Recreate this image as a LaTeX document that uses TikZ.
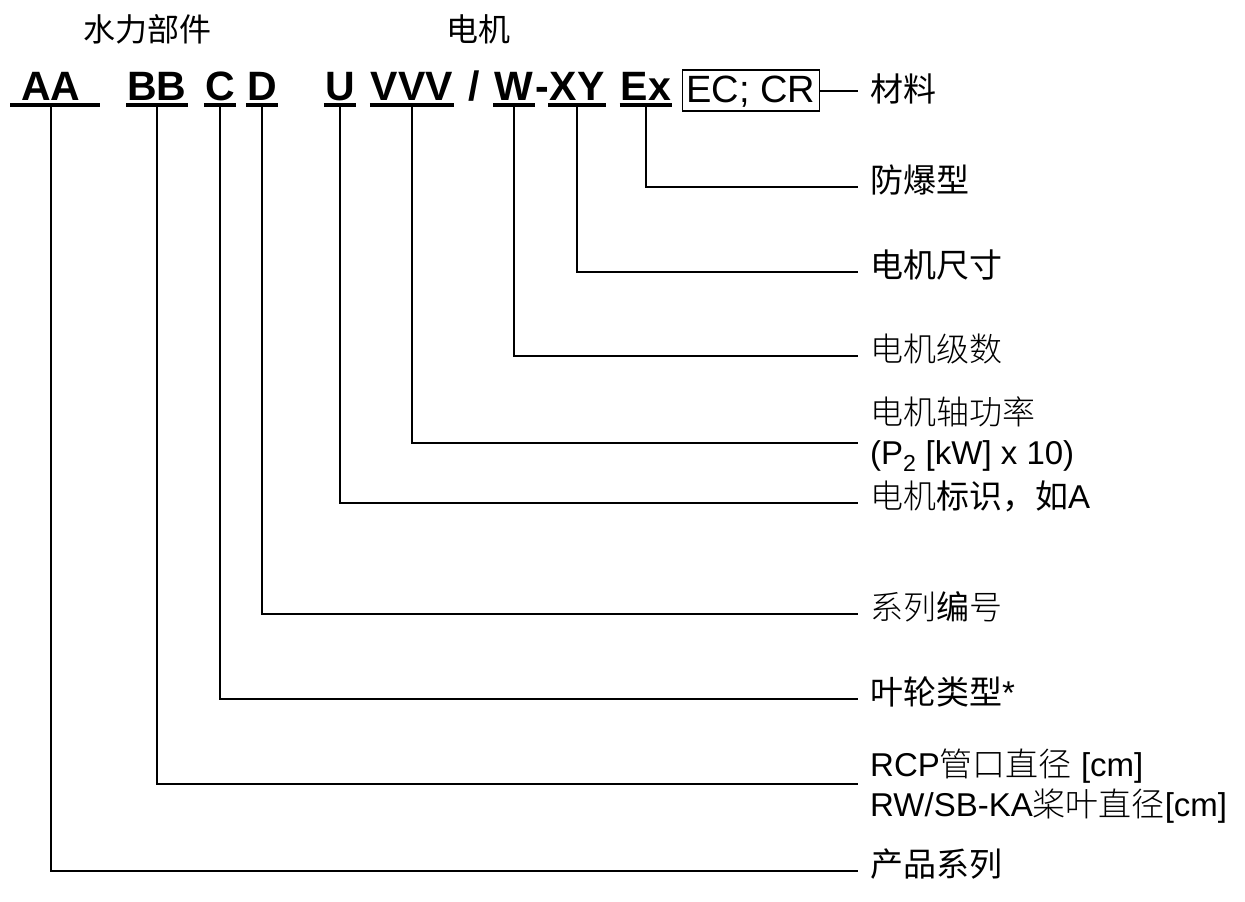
\documentclass[tikz,border=0pt]{standalone}
\usepackage{fontspec}
\setmainfont{Liberation Sans}
\newfontfamily\cjk{Noto Sans CJK SC}
\IfFontExistsTF{Noto Sans CJK SC Light}{\newfontfamily\cjkl{Noto Sans CJK SC Light}}{\newfontfamily\cjkl{Noto Sans CJK SC}}
\usepackage{tikz}
\usetikzlibrary{calc}

\begin{document}
\begin{tikzpicture}[x=1pt, y=-1pt,
    code/.style={font=\fontsize{41}{48}\selectfont\bfseries, inner xsep=1pt, inner ysep=5pt, text height=29pt, text depth=0pt, anchor=base},
    uline/.style={line width=4pt},
    leader/.style={line width=2pt},
    lbl/.style={font=\fontsize{33}{40}\selectfont, inner xsep=12pt, inner ysep=0pt, text height=20pt, text depth=10pt, anchor=west},
    lbltwo/.style={font=\fontsize{33}{40}\selectfont, inner xsep=12pt, inner ysep=0pt, anchor=west, align=left},
    grouptitle/.style={font=\fontsize{32}{38}\selectfont\cjk, anchor=base}]
      \useasboundingbox (0,0) rectangle (1245,902);

      % Group titles
      \node[grouptitle] (hydro) at (147,41) {水力部件};
      \node[grouptitle] (motor) at (478,41) {电机};

      % Code letters
      \node[code] (aa) at (51,100) {AA};
      \node[code] (bb) at (157,100) {BB};
      \node[code] (cc) at (220,100) {C};
      \node[code] (dd) at (262,100) {D};
      \node[code] (uu) at (340,100) {U};
      \node[code] (vvv) at (412,100) {VVV};
      \node[code] (slash) at (474,100) {/};
      \node[code] (ww) at (514,100) {W};
      \node[code] (dash) at (542,100) {-};
      \node[code] (xy) at (577,100) {XY};
      \node[code] (ex) at (646,100) {Ex};
      \node[draw, line width=1.5pt, font=\fontsize{38}{44}\selectfont, inner xsep=4pt, inner ysep=5pt, text height=27pt, text depth=4pt, anchor=base] (ecbox) at (751,102) {EC; CR};

      % Underlines
      \draw[uline] ([xshift=-10pt]aa.south west) -- ([xshift=18pt]aa.south east);
      \foreach \n in {bb,cc,dd,uu,vvv,ww,xy,ex}
        \draw[uline] (\n.south west) -- (\n.south east);

      % Labels
      \node[lbl, text height=28pt, text depth=6pt] (matlbl) at ($(ecbox.east)+(38,0)$) {\cjk 材料};
      \node[lbl] (exlbl) at (858,187) {\cjk 防爆型};
      \node[lbl] (xylbl) at (858,272) {\cjk 电机尺寸};
      \node[lbl] (wlbl) at (858,356) {\cjkl 电机级数};
      \node[lbltwo] (vvvlbl) at (858,434) {{\cjkl 电机轴功率}\\(P\textsubscript{2} [kW] x 10)};
      \node[lbl] (ulbl) at (858,503) {{\cjkl 电机}{\cjk 标识，如}A};
      \node[lbl] (dlbl) at (858,614) {{\cjkl 系列}{\cjk 编}{\cjkl 号}};
      \node[lbl] (clbl) at (858,699) {{\cjk 叶轮类型}*};
      \node[lbltwo] (bblbl) at (858,786) {RCP{\cjkl 管口直径} [cm]\\RW/SB-KA{\cjkl 桨叶直径}[cm]};
      \node[lbl] (aalbl) at (858,871) {\cjk 产品系列};

      % Leaders
      \draw[leader] (ecbox.east) -- (matlbl.west);
      \draw[leader] (ex.south) |- (exlbl.west);
      \draw[leader] (xy.south) |- (xylbl.west);
      \draw[leader] (ww.south) |- (wlbl.west);
      \draw[leader] (vvv.south) |- ($(vvvlbl.west)+(0,9)$);
      \draw[leader] (uu.south) |- (ulbl.west);
      \draw[leader] (dd.south) |- (dlbl.west);
      \draw[leader] (cc.south) |- (clbl.west);
      \draw[leader] (bb.south) |- ($(bblbl.west)+(0,-2)$);
      \draw[leader] (aa.south) |- (aalbl.west);
    \end{tikzpicture}
\end{document}
